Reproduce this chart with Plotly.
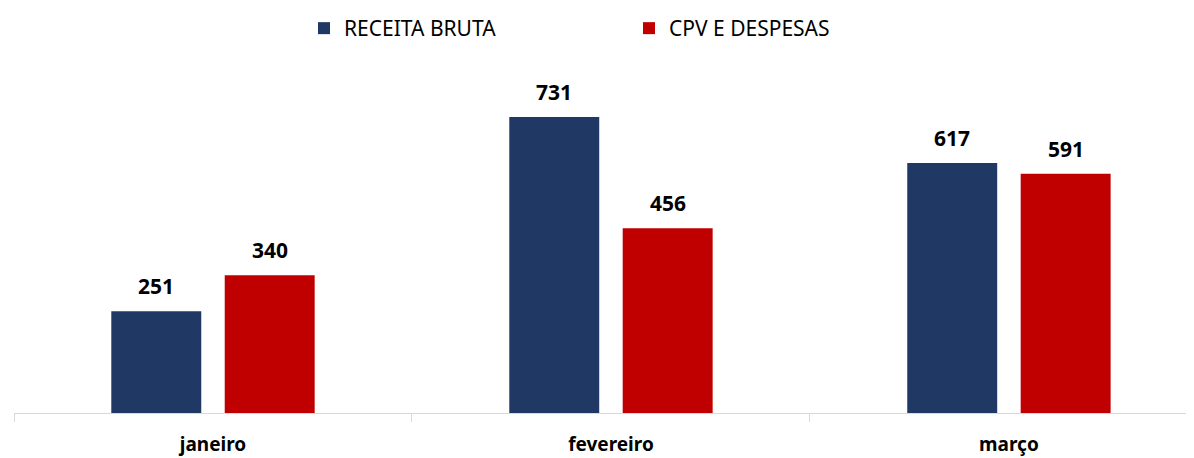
import plotly.graph_objects as go

months = ["janeiro", "fevereiro", "março"]
receita = [251, 731, 617]
cpv = [340, 456, 591]
series_names = ["RECEITA BRUTA", "CPV E DESPESAS"]
colors = ["#203864", "#C00000"]

FONT = "Noto Sans"

fig = go.Figure()
for name, vals, col in zip(series_names, [receita, cpv], colors):
    fig.add_trace(go.Bar(x=months, y=vals, name=name, marker_color=col,
                         marker_line_width=0))

# data labels
for vals, shift in zip([receita, cpv], [-56.75, 56.75]):
    for m, v in zip(months, vals):
        fig.add_annotation(x=m, y=v, xref="x", yref="y", text=f"<b>{v}</b>",
                           showarrow=False, xshift=shift, yshift=25,
                           yanchor="middle",
                           font=dict(family=FONT, size=21, color="#000000"))

fig.update_layout(
    width=1186, height=450,
    margin=dict(l=6, r=0, t=52, b=45),
    paper_bgcolor="white", plot_bgcolor="white",
    barmode="group", bargap=0.43, bargroupgap=0.207,
    showlegend=True,
    legend=dict(orientation="h", x=296 / 1186, xanchor="left", xref="container",
                y=1.0, yref="container", yanchor="top", entrywidth=280,
                font=dict(family=FONT, size=21, color="#000"),
                itemclick=False),
    xaxis=dict(type="category", range=[-0.5, 2.465], tickson="boundaries",
               ticks="outside", ticklen=8, tickcolor="#D9D9D9", tickwidth=1,
               showline=True, linecolor="#D9D9D9", linewidth=1,
               ticklabelstandoff=14,
               tickfont=dict(family=FONT, size=19, color="#000"),
               tickprefix="<b>", ticksuffix="</b>", showgrid=False),
    yaxis=dict(range=[0, 871.6], visible=False, showgrid=False, zeroline=False),
)

fig.write_html("out.html")
